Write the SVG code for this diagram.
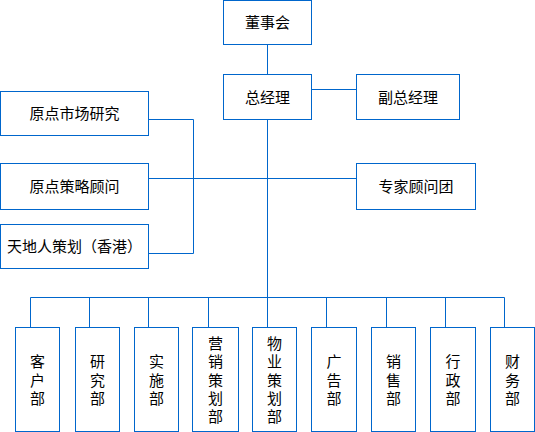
<svg xmlns="http://www.w3.org/2000/svg" width="535" height="432" viewBox="0 0 535 432">
<style>
rect.b{fill:#fff;stroke:#0066CC;stroke-width:1}
.c line,.c polyline{stroke:#0066CC;stroke-width:1;fill:none}
text{font-family:"Liberation Sans","Noto Sans CJK SC",sans-serif;font-size:15px;fill:#000;text-anchor:middle;dominant-baseline:central}
</style>
<rect width="535" height="432" fill="#fff"/>
<g class="c" id="connectors">
<line x1="267.5" y1="44.5" x2="267.5" y2="74.5"/>
<line x1="267.5" y1="119.5" x2="267.5" y2="297.5"/>
<line x1="311.5" y1="89.5" x2="356.5" y2="89.5"/>
<line x1="148.5" y1="178.5" x2="356.5" y2="178.5"/>
<polyline points="148.5,119.5 193.5,119.5 193.5,253.5 148.5,253.5"/>
<line x1="30.5" y1="297.5" x2="504.5" y2="297.5"/>
<line x1="30.5" y1="297.5" x2="30.5" y2="327.5"/>
<line x1="89.5" y1="297.5" x2="89.5" y2="327.5"/>
<line x1="148.5" y1="297.5" x2="148.5" y2="327.5"/>
<line x1="208.5" y1="297.5" x2="208.5" y2="327.5"/>
<line x1="267.5" y1="297.5" x2="267.5" y2="327.5"/>
<line x1="326.5" y1="297.5" x2="326.5" y2="327.5"/>
<line x1="386.5" y1="297.5" x2="386.5" y2="327.5"/>
<line x1="445.5" y1="297.5" x2="445.5" y2="327.5"/>
<line x1="504.5" y1="297.5" x2="504.5" y2="327.5"/>
</g>
<g id="board"><rect class="b" x="223.5" y="0.5" width="88" height="44"/><text x="267.5" y="22.5">董事会</text></g>
<g id="gm"><rect class="b" x="223.5" y="74.5" width="88" height="45"/><text x="267.5" y="97">总经理</text></g>
<g id="dgm"><rect class="b" x="356.5" y="74.5" width="103" height="45"/><text x="408" y="97">副总经理</text></g>
<g id="experts"><rect class="b" x="356.5" y="163.5" width="119" height="46"/><text x="416" y="186.5">专家顾问团</text></g>
<g id="research"><rect class="b" x="0.5" y="91.5" width="148" height="44"/><text x="74.5" y="113.5">原点市场研究</text></g>
<g id="strategy"><rect class="b" x="0.5" y="163.5" width="148" height="46"/><text x="74.5" y="186.5">原点策略顾问</text></g>
<g id="tdr"><rect class="b" x="0.5" y="224.5" width="148" height="44"/><text x="74.5" y="246.5">天地人策划（香港）</text></g>
<g id="d1"><rect class="b" x="15.5" y="327.5" width="44" height="104"/><text><tspan x="37.5" y="361.2">客</tspan><tspan x="37.5" y="379.5">户</tspan><tspan x="37.5" y="397.8">部</tspan></text></g>
<g id="d2"><rect class="b" x="75.5" y="327.5" width="44" height="104"/><text><tspan x="97.5" y="361.2">研</tspan><tspan x="97.5" y="379.5">究</tspan><tspan x="97.5" y="397.8">部</tspan></text></g>
<g id="d3"><rect class="b" x="134.5" y="327.5" width="44" height="104"/><text><tspan x="156.5" y="361.2">实</tspan><tspan x="156.5" y="379.5">施</tspan><tspan x="156.5" y="397.8">部</tspan></text></g>
<g id="d4"><rect class="b" x="192.5" y="327.5" width="46" height="104"/><text><tspan x="215.5" y="342.9">营</tspan><tspan x="215.5" y="361.2">销</tspan><tspan x="215.5" y="379.5">策</tspan><tspan x="215.5" y="397.8">划</tspan><tspan x="215.5" y="416.1">部</tspan></text></g>
<g id="d5"><rect class="b" x="252.5" y="327.5" width="44" height="104"/><text><tspan x="274.5" y="342.9">物</tspan><tspan x="274.5" y="361.2">业</tspan><tspan x="274.5" y="379.5">策</tspan><tspan x="274.5" y="397.8">划</tspan><tspan x="274.5" y="416.1">部</tspan></text></g>
<g id="d6"><rect class="b" x="311.5" y="327.5" width="45" height="104"/><text><tspan x="334" y="361.2">广</tspan><tspan x="334" y="379.5">告</tspan><tspan x="334" y="397.8">部</tspan></text></g>
<g id="d7"><rect class="b" x="371.5" y="327.5" width="44" height="104"/><text><tspan x="393.5" y="361.2">销</tspan><tspan x="393.5" y="379.5">售</tspan><tspan x="393.5" y="397.8">部</tspan></text></g>
<g id="d8"><rect class="b" x="430.5" y="327.5" width="45" height="104"/><text><tspan x="453" y="361.2">行</tspan><tspan x="453" y="379.5">政</tspan><tspan x="453" y="397.8">部</tspan></text></g>
<g id="d9"><rect class="b" x="490.5" y="327.5" width="44" height="104"/><text><tspan x="512.5" y="361.2">财</tspan><tspan x="512.5" y="379.5">务</tspan><tspan x="512.5" y="397.8">部</tspan></text></g>
</svg>
